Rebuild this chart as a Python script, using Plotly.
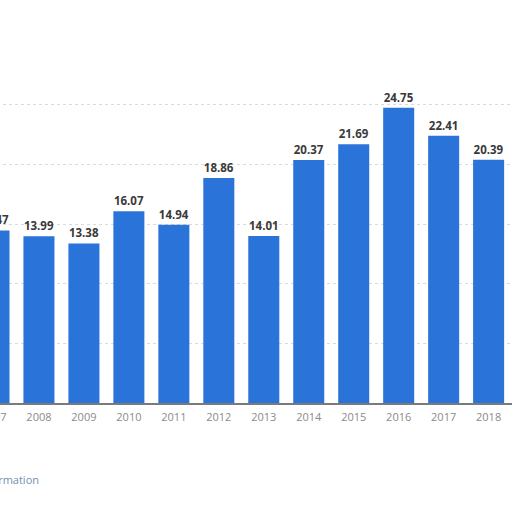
import plotly.graph_objects as go

years = ["2007", "2008", "2009", "2010", "2011", "2012", "2013", "2014", "2015", "2016", "2017", "2018"]
values = [14.47, 13.99, 13.38, 16.07, 14.94, 18.86, 14.01, 20.37, 21.69, 24.75, 22.41, 20.39]
labels = ["14.47", "13.99", "13.38", "16.07", "14.94", "18.86", "14.01", "20.37", "21.69", "24.75", "22.41", "20.39"]
y_ticks = [0, 5, 10, 15, 20, 25]

label_font = dict(family="Open Sans, Liberation Sans, Arial", size=11.5, color="#3a3a3a", weight="bold")

# the chart is a crop of a wider chart: the figure is wider than the window
# and shifted left so the first bar is only partly visible
X_START, X_END = -0.6, 11.52
PX_PER_CAT = 45
FIG_W = round((X_END - X_START) * PX_PER_CAT)
SHIFT = (0.144 - X_START) * PX_PER_CAT

fig = go.Figure(go.Bar(
    x=list(range(len(years))),
    y=values,
    text=labels,
    textposition="outside",
    cliponaxis=False,
    marker=dict(color="#2a74d9", line=dict(width=0)),
    textfont=label_font,
))

fig.update_layout(
    width=FIG_W, height=512,
    margin=dict(l=0, r=0, t=81, b=109),
    paper_bgcolor="white", plot_bgcolor="white",
    bargap=0.31,
    showlegend=False,
    font=dict(family="Open Sans, Liberation Sans, Arial"),
    xaxis=dict(
        range=[X_START, X_END],
        tickmode="array",
        tickvals=list(range(len(years))),
        ticktext=years,
        tickfont=dict(size=11, color="#8a8a8a"),
        showgrid=False,
        showline=True, linecolor="#7a7a7a", linewidth=1.5,
        ticks="", ticklabelstandoff=3,
    ),
    yaxis=dict(
        range=[0, 27],
        tickvals=y_ticks,
        showticklabels=False,
        showgrid=True, gridcolor="#dadada", griddash="dot", gridwidth=1,
        zeroline=False,
    ),
    annotations=[dict(
        text="Additional Information",
        xref="paper", yref="paper",
        x=(41 + SHIFT) / FIG_W, y=-(479 - 403) / 322,
        xanchor="right", yanchor="middle",
        showarrow=False,
        font=dict(size=11, color="#6f8fae"),
    )],
)

fig.write_html(
    "out.html", config={"displayModeBar": False},
    post_script=f"document.body.style.margin='0';document.body.style.marginLeft='-{SHIFT:.1f}px';document.body.style.overflow='hidden';",
)
